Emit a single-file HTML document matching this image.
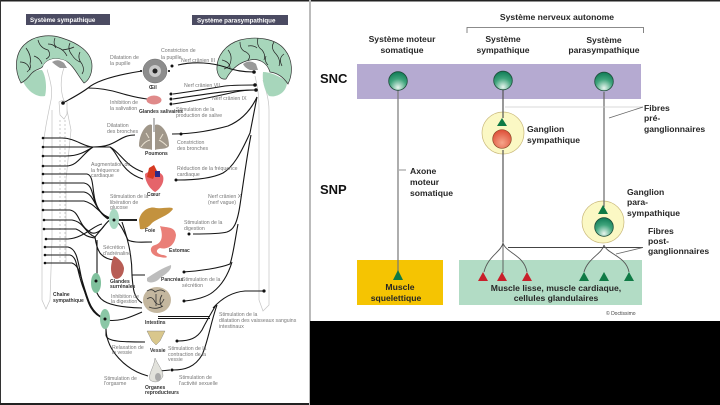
<!DOCTYPE html>
<html><head><meta charset="utf-8"><style>
html,body{margin:0;padding:0;background:#fff}
svg{display:block}
text{font-family:"Liberation Sans",sans-serif}
.t{font-size:5.2px;fill:#777}
.o{font-size:5px;font-weight:bold;fill:#333}
.b{font-size:8.6px;font-weight:bold;fill:#262626}
.n{fill:none;stroke:#151515;stroke-width:1.1}
.g{fill:none;stroke:#555;stroke-width:.9}
.s{fill:none;stroke:#c4c4c4;stroke-width:.7}
</style></head><body>
<svg width="720" height="405" viewBox="0 0 720 405" xmlns="http://www.w3.org/2000/svg">
<defs>
<radialGradient id="gc" cx=".5" cy=".85" r=".85"><stop offset="0" stop-color="#e8f5ee"/><stop offset=".55" stop-color="#3fa47c"/><stop offset="1" stop-color="#0f7a55"/></radialGradient>
<radialGradient id="rc" cx=".5" cy=".7" r=".8"><stop offset="0" stop-color="#f6a58a"/><stop offset="1" stop-color="#d9402a"/></radialGradient>
</defs>
<rect width="720" height="405" fill="#fff"/>
<rect x="0" y="0" width="720" height="1.5" fill="#222"/>
<rect x="0" y="0" width="1" height="405" fill="#333"/>
<rect x="0" y="403" width="310" height="2" fill="#222"/>
<rect x="309" y="0" width="2" height="405" fill="#bbb"/>
<rect x="310" y="321" width="410" height="84" fill="#000"/>

<!-- LEFT -->
<rect x="26" y="14" width="84" height="11" fill="#4b4b62"/>
<text x="30" y="22" font-size="6.200" font-weight="bold" fill="#fff">Système sympathique</text>
<rect x="192" y="15" width="96" height="10" fill="#4b4b62"/>
<text x="197" y="22.500" font-size="6.200" font-weight="bold" fill="#fff">Système parasympathique</text>

<!-- spinal cords -->
<path class="s" d="M46 66 C50 80 54 90 50 105 C46 125 42 140 42 180 L42 300 L46 309 L50 300 L52 240 L52 110 M64 68 C60 78 60 95 66 105 L71 130 L66 180 L66 262"/>
<path class="s" d="M255 76 C257 85 259 92 259 110 L259 300 L263 311 L269 305 L269 110 C269 100 266 90 263 80"/>
<path d="M59 102 q4 -3 8 0 l0 12 l-3 5 l-4 -4z" fill="#fff" stroke="#bbb" stroke-width=".6"/>
<path d="M60 120 V262 M65 120 V262" stroke="#999" stroke-width=".5" stroke-dasharray="2 2" fill="none"/>

<!-- brains -->
<path d="M22 79 C26 90 36 98 45 96 C47 88 46 76 42 70 C34 70 27 74 22 79Z" fill="#a7d6bb"/>
<path d="M21 83 C14 70 15 54 24 45 C34 35 50 34 62 38 C78 43 92 52 92 66 C92 75 88 81 84 83 C78 76 74 66 66 61 C57 57 47 58 43 66 C41 70 36 68 31 74 C28 78 25 81 21 83Z" fill="#a7d6bb" stroke="#333" stroke-width=".7"/>
<path d="M43 66 C47 58 57 57 66 61 L72 68 L62 66 C55 62 49 64 46 72Z" fill="#fff"/>
<path d="M52 62 q6 -4 12 1 l3 5 h-7 q-5 -3 -8 -6z" fill="#999"/>
<path d="M26 48 q6 8 4 16 q2 4 -3 8 M38 40 q2 8 10 10 q4 6 -2 9 M55 38 q-3 8 4 10 q5 2 8 8 M70 43 q-3 6 2 12 q3 5 8 7 M80 52 q-3 6 2 12 q3 6 0 10 M20 62 q8 0 10 8 M34 56 q6 2 8 8 M48 44 q6 0 8 4 M62 50 q8 -1 12 -3" fill="none" stroke="#222" stroke-width=".7"/>
<path d="M263 72 C270 72 280 76 287 82 C287 92 277 98 269 96 C264 90 262 80 263 72Z" fill="#a7d6bb"/>
<path d="M217 70 C216 56 226 44 240 40 C256 36 276 38 285 50 C293 60 293 74 288 84 C284 78 278 73 270 72 C267 62 258 58 250 60 C240 62 232 68 226 79 C221 80 218 76 217 70Z" fill="#a7d6bb" stroke="#333" stroke-width=".7"/>
<path d="M243 64 q7 -5 13 0 l2 6 h-8 q-5 -2 -7 -6z" fill="#999"/>
<path d="M228 50 q5 6 2 14 q-2 4 -6 5 M240 42 q0 8 6 10 q6 4 2 8 M258 38 q-2 8 4 12 q4 5 2 10 M274 42 q-4 6 2 12 q5 6 3 12 M222 60 q8 2 8 8 M284 54 q-6 4 -2 12 M248 46 q6 -1 9 2 M266 56 q-2 5 2 9" fill="none" stroke="#222" stroke-width=".7"/>

<!-- nerves left -->
<g class="n">
<path d="M63 103 C72 98 80 94 88 88 C95 82 110 76 142 71"/>
<path d="M88 88 C98 88 110 90 120 93 C130 96 138 98 147 99"/>
<path d="M43 138 H62 C75 138 84 147 93 147 C118 147 118 135 135 135"/>
<path d="M43 147 H110 C120 152 125 166 143 172"/>
<path d="M110 147 C118 152 120 172 143 179"/>
<path d="M43 156 H66 C78 156 85 152 93 147"/>
<path d="M43 166 H66 C78 166 82 154 93 147"/>
<path d="M43 174 H87 C96 176 90 198 100 211 C105 217 109 219 112 219"/>
<path d="M43 183 H84 C96 185 90 205 104 215 L112 219"/>
<path d="M43 192 H84 C95 194 94 210 108 219"/>
<path d="M43 201 H84 C94 203 98 212 110 219"/>
<path d="M43 210 H70 C80 212 78 225 90 232 C94 235 100 232 104 226 C108 221 110 219 114 219"/>
<path d="M44 220 H72 C84 222 84 232 95 237 L104 226"/>
<path d="M44 229 H76 C84 232 82 236 95 238"/>
<path d="M46 239 H68 C84 238 94 225 102 224"/>
<path d="M45 247 H68 C78 249 78 264 83 285 C88 305 92 315 105 319"/>
<path d="M45 255 H70 C78 257 76 270 84 290 C90 308 96 315 105 319"/>
<path d="M45 263 H72 C80 266 80 276 87 296 C92 312 98 316 105 319"/>
<path d="M95 237 C96 245 98 250 100 253 C104 258 110 260 115 260"/>
<path d="M97 240 V293 C100 300 106 307 142 308"/>
<path d="M114 220 C120 222 124 232 128 240 C134 243 142 242 152 242"/>
<path d="M122 222 C128 240 132 255 132 275 H145"/>
<path d="M132 275 C133 290 134 298 142 303"/>
<path d="M105 320 C120 322 128 318 142 312"/>
<path d="M106 325 V335 C106 342 125 342 145 342"/>
<path d="M106 330 C107 350 125 370 148 376"/>
</g>
<path d="M113 220 H137" stroke="#222" stroke-width="2" fill="none"/>
<!-- right-side nerves -->
<g class="n">
<path d="M178 65 C195 61 213 63 225 67 C235 71 245 72 254 72"/>
<path d="M173 94 C195 91 213 88 225 86 C235 85 245 85 255 85"/>
<path d="M173 99 C195 96 225 90 255 90"/>
<path d="M173 104 C195 101 213 97 235 92 C245 90 252 90 256 90"/>
<path d="M172 134 C195 134 213 130 228 126 C240 121 250 112 257 97"/>
<path d="M177 180 C195 180 213 178 223 173 C233 167 240 155 250 133 L257 97"/>
<path d="M193 234 C205 234 220 234 227 232 C233 230 237 225 240 205 C243 185 247 155 251 135"/>
<path d="M183 272 C200 271 220 268 230 264 C233 256 235 240 238 224"/>
<path d="M185 301 C195 300 207 297 213 292 C222 285 228 275 232 262"/>
<path d="M158 316.500 H210"/>
<path d="M158 318.500 H210"/>
<path d="M213 308 C222 298 232 292 245 291 L263 291"/>
<path d="M178 341 C190 341 197 338 202 330 C206 322 210 315 216 305"/>
<path d="M173 370 C185 370 195 367 202 355 C208 342 210 325 217 305"/>
<path d="M160 371 L170 370"/>
</g>
<g fill="#111">
<circle cx="63" cy="103" r="1.800"/><circle cx="254" cy="72" r="1.800"/><circle cx="255" cy="85" r="1.800"/><circle cx="256" cy="90" r="1.800"/><circle cx="264" cy="291" r="1.600"/>
<circle cx="43" cy="138" r="1.300"/><circle cx="43" cy="147" r="1.300"/><circle cx="43" cy="156" r="1.300"/><circle cx="43" cy="166" r="1.300"/><circle cx="43" cy="174" r="1.300"/><circle cx="43" cy="183" r="1.300"/><circle cx="43" cy="192" r="1.300"/><circle cx="43" cy="201" r="1.300"/><circle cx="43" cy="210" r="1.300"/><circle cx="44" cy="220" r="1.300"/><circle cx="44" cy="229" r="1.300"/><circle cx="46" cy="239" r="1.300"/><circle cx="45" cy="247" r="1.300"/><circle cx="45" cy="255" r="1.300"/><circle cx="45" cy="263" r="1.300"/>
<circle cx="172" cy="66" r="1.500"/><circle cx="171" cy="94" r="1.500"/><circle cx="171" cy="99" r="1.500"/><circle cx="171" cy="104" r="1.500"/><circle cx="181" cy="134" r="1.500"/><circle cx="176" cy="180" r="1.500"/><circle cx="189" cy="234" r="1.500"/><circle cx="184" cy="272" r="1.500"/><circle cx="184" cy="301" r="1.500"/><circle cx="177" cy="341" r="1.500"/><circle cx="172" cy="370" r="1.500"/>
</g>
<!-- sympathetic ganglia -->
<ellipse cx="114" cy="219" rx="5" ry="10" fill="#a9d9c2"/>
<ellipse cx="96" cy="283" rx="5" ry="10" fill="#7fc09c"/>
<ellipse cx="105" cy="319" rx="5" ry="10" fill="#8bc7a6"/>
<circle cx="114" cy="220" r="1.500" fill="#111"/><circle cx="96" cy="281" r="1.500" fill="#111"/><circle cx="105" cy="319" r="1.500" fill="#111"/>

<!-- organs -->
<circle cx="155" cy="71" r="12" fill="#8d8d8d" stroke="#666" stroke-width=".5"/><circle cx="155" cy="71" r="6" fill="#c9c9c9"/><circle cx="155" cy="71" r="2.500" fill="#222"/>
<path d="M142 71h-2M168 71h2" stroke="#333" stroke-width="2"/>
<ellipse cx="154" cy="100" rx="7.500" ry="4.500" fill="#e08a8a"/>
<path d="M139 146 C139 132 148 122 152 125 V150 C147 148 141 150 139 146Z M155 125 C160 122 169 132 169 146 C166 150 160 148 155 150Z" fill="#a0978a"/>
<path d="M153 118 h2 v14 h-2z" fill="#bbb"/>
<path d="M141 147 q4 -6 9 -7 M159 140 q4 2 8 6 M146 133 l3 5 M163 134 l-3 5" stroke="#e8e0d0" stroke-width="1" fill="none"/>
<path d="M145 174 C149 170 160 170 163 176 C165 183 159 190 155 192 C150 189 145 182 145 174Z" fill="#e5646a"/>
<path d="M149 168 l5 -3 l3 6 l-4 8 l-6 -2z" fill="#d63a22"/><path d="M155 171 h5 v6 h-5z" fill="#2a2a88"/>
<path d="M139 220 C141 210 150 206 156 208 C162 209 172 206 173 209 C168 216 158 218 152 223 C148 228 143 230 140 229Z" fill="#c3923e"/>
<path d="M160 226 C167 228 175 226 176 235 C175 246 167 250 160 248 C155 250 156 254 163 255 C169 256 168 259 160 257 C150 256 148 247 155 245 C161 243 164 238 160 226Z" fill="#ea7f78"/>
<path d="M114 256 C118 258 123 262 124 268 C124 276 118 281 114 278 C110 274 110 264 114 256Z" fill="#b85d55"/>
<path d="M147 278 C155 273 162 268 171 265 C172 270 166 274 160 278 C157 282 150 284 147 281Z" fill="#bdbdbd"/>
<ellipse cx="157" cy="300" rx="14" ry="13" fill="#c4b79f"/>
<path d="M147 291 q5 -3 8 1 q6 -4 10 0 M147 299 q5 -4 8 3 q5 6 9 -3 M149 307 q7 3 14 -1 M156 294 v12 M162 295 q-4 6 0 12" stroke="#333" stroke-width=".8" fill="none"/>
<path d="M147 331 L165 331 L160 341 L156 345 L152 341Z" fill="#d9c78c" stroke="#777" stroke-width=".4"/>
<path d="M155 358 C158 365 163 370 163 376 C160 383 154 383 150 380 C148 373 154 368 155 358Z" fill="#e2e2dc" stroke="#777" stroke-width=".4"/>
<ellipse cx="158" cy="377" rx="3" ry="4" fill="#aaa"/>

<!-- left labels -->
<g class="t">
<text x="110" y="59">Dilatation de</text><text x="110" y="65">la pupille</text>
<text x="161" y="52">Constriction de</text><text x="161" y="59">la pupille</text>
<text x="181" y="62">Nerf crânien III</text>
<text x="184" y="87">Nerf crânien VII</text>
<text x="212" y="100">Nerf crânien IX</text>
<text x="110" y="104">Inhibition de</text><text x="110" y="110">la salivation</text>
<text x="176" y="111">Stimulation de la</text><text x="176" y="117">production de salive</text>
<text x="107" y="127">Dilatation</text><text x="107" y="133">des bronches</text>
<text x="177" y="144">Constriction</text><text x="177" y="150">des bronches</text>
<text x="91" y="166">Augmentation de</text><text x="91" y="172">la fréquence</text><text x="91" y="177">cardiaque</text>
<text x="177" y="170">Réduction de la fréquence</text><text x="177" y="176">cardiaque</text>
<text x="208" y="198">Nerf crânien X</text><text x="208" y="204">(nerf vague)</text>
<text x="110" y="198">Stimulation de la</text><text x="110" y="204">libération de</text><text x="110" y="209">glucose</text>
<text x="184" y="224">Stimulation de la</text><text x="184" y="230">digestion</text>
<text x="103" y="249">Sécrétion</text><text x="103" y="255">d'adrénaline</text>
<text x="182" y="281">Stimulation de la</text><text x="182" y="287">sécrétion</text>
<text x="111" y="298">Inhibition de</text><text x="111" y="303">la digestion</text>
<text x="219" y="316">Stimulation de la</text><text x="219" y="322">dilatation des vaisseaux sanguins</text><text x="219" y="328">intestinaux</text>
<text x="112" y="349">Relaxation de</text><text x="112" y="354">la vessie</text>
<text x="168" y="350">Stimulation de la</text><text x="168" y="356">contraction de la</text><text x="168" y="361">vessie</text>
<text x="104" y="380">Stimulation de</text><text x="104" y="385">l'orgasme</text>
<text x="179" y="379">Stimulation de</text><text x="179" y="385">l'activité sexuelle</text>
</g>
<g class="o">
<text x="149" y="89">Œil</text>
<text x="139" y="113">Glandes salivaires</text>
<text x="145" y="155">Poumons</text>
<text x="147" y="196">Cœur</text>
<text x="145" y="232">Foie</text>
<text x="169" y="252">Estomac</text>
<text x="110" y="283">Glandes</text><text x="110" y="288">surrénales</text>
<text x="161" y="281">Pancréas</text>
<text x="145" y="324">Intestins</text>
<text x="150" y="352">Vessie</text>
<text x="145" y="389">Organes</text><text x="145" y="394">reproducteurs</text>
<text x="53" y="296">Chaîne</text><text x="53" y="302">sympathique</text>
</g>

<!-- RIGHT -->
<rect x="357" y="64" width="284" height="35" fill="#b5aad1"/>
<rect x="357" y="260" width="86" height="45" fill="#f5c402"/>
<rect x="459" y="260" width="183" height="45" fill="#b2dcc5"/>
<circle cx="503" cy="133" r="21" fill="#fbf8c4" stroke="#c9b87a" stroke-width=".7"/>
<circle cx="603" cy="222" r="21" fill="#fbf8c4" stroke="#c9b87a" stroke-width=".7"/>

<path d="M467 33 V27.500 H643.500 V33" fill="none" stroke="#666" stroke-width=".8"/>
<path d="M398 90 V273" stroke="#777" stroke-width="1.200"/>
<path d="M503 90 V118 M503 150 V242" stroke="#555" stroke-width="1.200"/>
<path d="M604 92 V207" stroke="#666" stroke-width="1.200"/>
<path d="M505 107 H643" stroke="#ccc" stroke-width=".8"/>
<path d="M609 118 L643 107" stroke="#666" stroke-width=".8"/>
<path d="M508 247.500 H643" stroke="#444" stroke-width="1"/>
<path d="M616 254 L643 247.500" stroke="#666" stroke-width=".8"/>
<path d="M399 170 H406" stroke="#777" stroke-width=".8"/>
<path d="M503 242 V273 M503 243 C501 252 488 256 484 272 M503 243 C506 253 524 255 527 272" class="g"/>
<path d="M604 245 C602 254 588 258 584 272 M604 245 C607 254 626 256 629 272" class="g"/>

<g fill="#0f7a45">
<path d="M398 270 L403 280 H393Z"/>
<path d="M502 118 L507 126 H497Z"/>
<path d="M603 205 L608 214 H598Z"/>
<path d="M584 272 L589 281 H579Z"/><path d="M604 272 L609 281 H599Z"/><path d="M629 272 L634 281 H624Z"/>
</g>
<g fill="#c81f2a">
<path d="M483 272 L488 281 H478Z"/><path d="M502 272 L507 281 H497Z"/><path d="M527 272 L532 281 H522Z"/>
</g>
<g stroke="#1e4d3a" stroke-width=".8" fill="url(#gc)">
<circle cx="398" cy="81" r="9.300"/><circle cx="503" cy="80.500" r="9.300"/><circle cx="604" cy="81.500" r="9.300"/><circle cx="604" cy="227" r="9.300"/>
</g>
<circle cx="502" cy="139" r="9.300" fill="url(#rc)" stroke="#8a4a2a" stroke-width=".7"/>

<g class="b">
<text x="557" y="20" text-anchor="middle">Système nerveux autonome</text>
<text x="402" y="42" text-anchor="middle">Système moteur</text><text x="402" y="53" text-anchor="middle">somatique</text>
<text x="503" y="42" text-anchor="middle">Système</text><text x="503" y="53" text-anchor="middle">sympathique</text>
<text x="604" y="43" text-anchor="middle">Système</text><text x="604" y="53" text-anchor="middle">parasympathique</text>
<text x="527" y="132">Ganglion</text><text x="527" y="143">sympathique</text>
<text x="644" y="111">Fibres</text><text x="644" y="121">pré-</text><text x="644" y="132">ganglionnaires</text>
<text x="410" y="174">Axone</text><text x="410" y="185">moteur</text><text x="410" y="196">somatique</text>
<text x="627" y="195">Ganglion</text><text x="627" y="205">para-</text><text x="627" y="216">sympathique</text>
<text x="648" y="234">Fibres</text><text x="648" y="244">post-</text><text x="648" y="254">ganglionnaires</text>
<text x="400" y="290" text-anchor="middle">Muscle</text><text x="396" y="301" text-anchor="middle">squelettique</text>
<text x="556" y="291" text-anchor="middle">Muscle lisse, muscle cardiaque,</text><text x="556" y="301" text-anchor="middle">cellules glandulaires</text>
</g>
<text x="320" y="83" font-size="13" font-weight="bold" fill="#111">SNC</text>
<text x="320" y="194" font-size="13" font-weight="bold" fill="#111">SNP</text>
<text x="606" y="315" font-size="5" fill="#444">© Doctissimo</text>
</svg>
</body></html>
